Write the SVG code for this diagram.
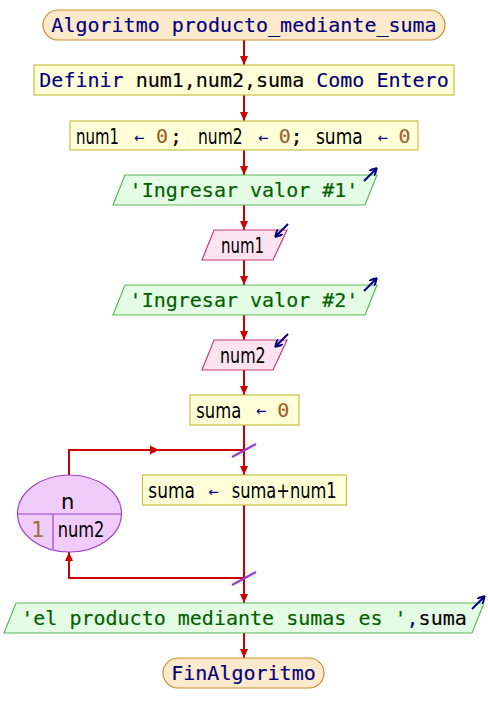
<svg xmlns="http://www.w3.org/2000/svg" width="488" height="723" viewBox="0 0 488 723">
<defs>
<style>
text{stroke-width:0}
.mono{font-family:"DejaVu Sans Mono",monospace;font-size:20px;stroke-width:0.15}
.arr{font-family:"DejaVu Sans Mono",monospace;font-size:17px}
.sans{font-family:"DejaVu Sans",sans-serif;font-size:21px}
.kw{fill:#000080;stroke:#000080}
.blk{fill:#000000;stroke:#000000}
.num{fill:#a0602a;stroke:#a0602a}
.lnum{fill:#a07040;stroke:#a07040}
.str{fill:#006000;stroke:#006000}
.term{fill:#fde9cc;stroke:#c8902e;stroke-width:1.2}
.proc{fill:#ffffd8;stroke:#c8c040;stroke-width:1.2}
.out{fill:#e4fbe4;stroke:#5cb85c;stroke-width:1.2}
.inp{fill:#fde2ef;stroke:#c0407a;stroke-width:1.2}
.conn{stroke:#cc0000;stroke-width:2;fill:none}
.icon{stroke:#000080;stroke-width:2;fill:none}
.slash{stroke:#9040d0;stroke-width:2.2}
</style>
<marker id="ah" markerWidth="10" markerHeight="8" refX="9" refY="4" orient="auto" markerUnits="userSpaceOnUse">
<path d="M0,0 L9,4 L0,8 z" fill="#cc0000"/>
</marker>
<marker id="ia" markerWidth="8" markerHeight="8" refX="6" refY="4" orient="auto" markerUnits="userSpaceOnUse">
<path d="M0,0 L7,4 L0,8" fill="none" stroke="#000080" stroke-width="2"/>
</marker>
</defs>
<rect width="488" height="723" fill="#ffffff"/>

<g id="connectors">
<line class="conn" x1="244" y1="40" x2="244" y2="65" marker-end="url(#ah)"/>
<line class="conn" x1="244" y1="95" x2="244" y2="121" marker-end="url(#ah)"/>
<line class="conn" x1="244" y1="150" x2="244" y2="175" marker-end="url(#ah)"/>
<line class="conn" x1="244" y1="205" x2="244" y2="230" marker-end="url(#ah)"/>
<line class="conn" x1="244" y1="260" x2="244" y2="285" marker-end="url(#ah)"/>
<line class="conn" x1="244" y1="315" x2="244" y2="340" marker-end="url(#ah)"/>
<line class="conn" x1="244" y1="370" x2="244" y2="395" marker-end="url(#ah)"/>
<line class="conn" x1="244" y1="425" x2="244" y2="475" marker-end="url(#ah)"/>
<line class="conn" x1="244" y1="505" x2="244" y2="603" marker-end="url(#ah)"/>
<line class="conn" x1="244" y1="633" x2="244" y2="658" marker-end="url(#ah)"/>
<path class="conn" d="M69,475 V450 H244"/>
<path d="M150,445.5 L159,450 L150,454.5 z" fill="#cc0000"/>
<path class="conn" d="M244,578 H69 V552" marker-end="url(#ah)"/>
<line class="slash" x1="232" y1="457" x2="256" y2="444"/>
<line class="slash" x1="232" y1="585" x2="256" y2="572"/>
</g>

<g id="start">
<rect class="term" x="43" y="10" width="402" height="30" rx="15"/>
<text class="mono kw" x="244" y="31.5" text-anchor="middle">Algoritmo producto_mediante_suma</text>
</g>

<g id="definir">
<rect class="proc" x="34" y="65" width="420" height="30"/>
<text class="mono" x="244" y="86.5" text-anchor="middle"><tspan class="kw">Definir </tspan><tspan class="blk">num1,num2,suma </tspan><tspan class="kw">Como Entero</tspan></text>
</g>

<g id="init">
<rect class="proc" x="70" y="121" width="348" height="29"/>
<text class="sans blk" x="76" y="144" textLength="43" lengthAdjust="spacingAndGlyphs">num1</text>
<text class="arr kw" x="139" y="142.5" text-anchor="middle">←</text>
<text class="mono num" x="162" y="143" text-anchor="middle">0</text>
<text class="mono blk" x="176" y="143" text-anchor="middle">;</text>
<text class="sans blk" x="198" y="144" textLength="44.7" lengthAdjust="spacingAndGlyphs">num2</text>
<text class="arr kw" x="263" y="142.5" text-anchor="middle">←</text>
<text class="mono num" x="284.7" y="143" text-anchor="middle">0</text>
<text class="mono blk" x="296.5" y="143" text-anchor="middle">;</text>
<text class="sans blk" x="316" y="144" textLength="46.7" lengthAdjust="spacingAndGlyphs">suma</text>
<text class="arr kw" x="382.5" y="142.5" text-anchor="middle">←</text>
<text class="mono num" x="404.5" y="143" text-anchor="middle">0</text>
</g>

<g id="out1">
<polygon class="out" points="125,175 377,175 365,205 113,205"/>
<text class="mono str" x="244" y="196.5" text-anchor="middle">'Ingresar valor #1'</text>
<line class="icon" x1="364" y1="181" x2="376" y2="169" marker-end="url(#ia)"/>
</g>

<g id="in1">
<polygon class="inp" points="214,230 287,230 273,260 202,260"/>
<text class="sans blk" x="221" y="253" textLength="43" lengthAdjust="spacingAndGlyphs">num1</text>
<line class="icon" x1="288" y1="224" x2="276" y2="236" marker-end="url(#ia)"/>
</g>

<g id="out2">
<polygon class="out" points="125,285 377,285 365,315 113,315"/>
<text class="mono str" x="244" y="306.5" text-anchor="middle">'Ingresar valor #2'</text>
<line class="icon" x1="364" y1="291" x2="376" y2="279" marker-end="url(#ia)"/>
</g>

<g id="in2">
<polygon class="inp" points="214,340 287,340 273,370 202,370"/>
<text class="sans blk" x="220" y="363" textLength="45.7" lengthAdjust="spacingAndGlyphs">num2</text>
<line class="icon" x1="288" y1="334" x2="276" y2="346" marker-end="url(#ia)"/>
</g>

<g id="sumainit">
<rect class="proc" x="190" y="395" width="109" height="30"/>
<text class="sans blk" x="196.3" y="417.5" textLength="45" lengthAdjust="spacingAndGlyphs">suma</text>
<text class="arr kw" x="261" y="416" text-anchor="middle">←</text>
<text class="mono num" x="283.3" y="416.5" text-anchor="middle">0</text>
</g>

<g id="loop">
<ellipse cx="69.5" cy="513.5" rx="52" ry="38.5" fill="#f0ccfa" stroke="#a040c8" stroke-width="1.2"/>
<line x1="17.5" y1="514" x2="121.5" y2="514" stroke="#a040c8" stroke-width="1.2"/>
<line x1="53" y1="514" x2="53" y2="549" stroke="#a040c8" stroke-width="1.2"/>
<text class="sans blk" x="67.7" y="509" text-anchor="middle">n</text>
<text class="sans lnum" x="38" y="537" text-anchor="middle">1</text>
<text class="sans blk" x="57.7" y="537" textLength="46.7" lengthAdjust="spacingAndGlyphs">num2</text>
</g>

<g id="body">
<rect class="proc" x="142.5" y="475" width="204" height="30"/>
<text class="sans blk" x="148.3" y="498" textLength="46.7" lengthAdjust="spacingAndGlyphs">suma</text>
<text class="arr kw" x="213.3" y="496.5" text-anchor="middle">←</text>
<text class="sans blk" x="231.7" y="498" textLength="105" lengthAdjust="spacingAndGlyphs">suma+num1</text>
</g>

<g id="out3">
<polygon class="out" points="16,603 484,603 472,633 4,633"/>
<text class="mono" x="244" y="624.5" text-anchor="middle"><tspan class="str">'el producto mediante sumas es '</tspan><tspan class="kw">,</tspan><tspan class="blk">suma</tspan></text>
<line class="icon" x1="472" y1="609" x2="484" y2="597" marker-end="url(#ia)"/>
</g>

<g id="end">
<rect class="term" x="163" y="658" width="161" height="30" rx="15"/>
<text class="mono kw" x="243.5" y="679.5" text-anchor="middle">FinAlgoritmo</text>
</g>
</svg>
